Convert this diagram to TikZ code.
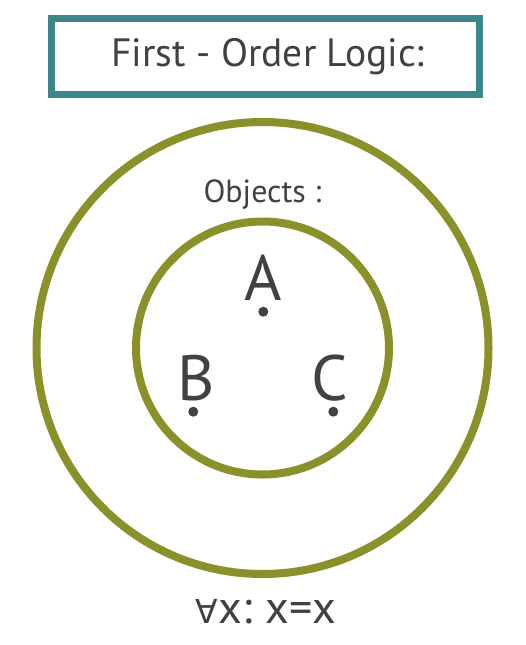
\documentclass[tikz,border=0pt]{standalone}
\usepackage{fontspec}
\setmainfont{PT Sans}
\newfontfamily\symfont{DejaVu Sans}
\usetikzlibrary{shapes.geometric}
\definecolor{titleteal}{RGB}{58,134,138}
\definecolor{ringolive}{RGB}{138,145,42}
\definecolor{inkgray}{RGB}{65,64,66}
\tikzstyle{titlebox} = [rectangle, draw=titleteal, line width=7pt, minimum width=428pt, minimum height=76pt, inner sep=0pt, text=inkgray, font=\fontsize{39.5}{39.5}\selectfont]
\tikzstyle{ring} = [circle, draw=ringolive, line width=8pt, inner sep=0pt]
\tikzstyle{caption} = [inner sep=0pt, anchor=base, text=inkgray, font=\fontsize{32}{32}\selectfont]
\tikzstyle{letter} = [inner sep=0pt, anchor=base, text=inkgray, font=\fontsize{64}{64}\selectfont]
\tikzstyle{formula} = [inner sep=0pt, anchor=base, text=inkgray, font=\fontsize{46}{46}\selectfont]
\tikzstyle{objdot} = [circle, fill=inkgray, minimum size=10pt, inner sep=0pt]

\begin{document}
\begin{tikzpicture}[x=1pt,y=-1pt]
    \useasboundingbox (0,0) rectangle (526,645);
    \node [titlebox] at (265.5,56.5) (title) {\hspace*{5pt}First - Order Logic:};

    \node [ring, minimum size=452pt] at (262.5,348) (outer) {};
    \node [ring, minimum size=253pt] at (262.5,348) (inner) {};
    \node [caption] at (262.5,202) (objects) {Objects :};

    \node [letter] at (263,300) (a) {A};
    \node [letter] at (196,400.5) (b) {B};
    \node [letter] at (330,400.5) (c) {C};
    \node [objdot] at (263.3,311.7) (dota) {};
    \node [objdot] at (193.3,411.7) (dotb) {};
    \node [objdot] at (333.3,411.7) (dotc) {};

    \node [formula] at (266,623) (rule) {{\symfont\fontsize{33}{33}\selectfont ∀}x:\hspace{-3pt} x=x};
\end{tikzpicture}
\end{document}
